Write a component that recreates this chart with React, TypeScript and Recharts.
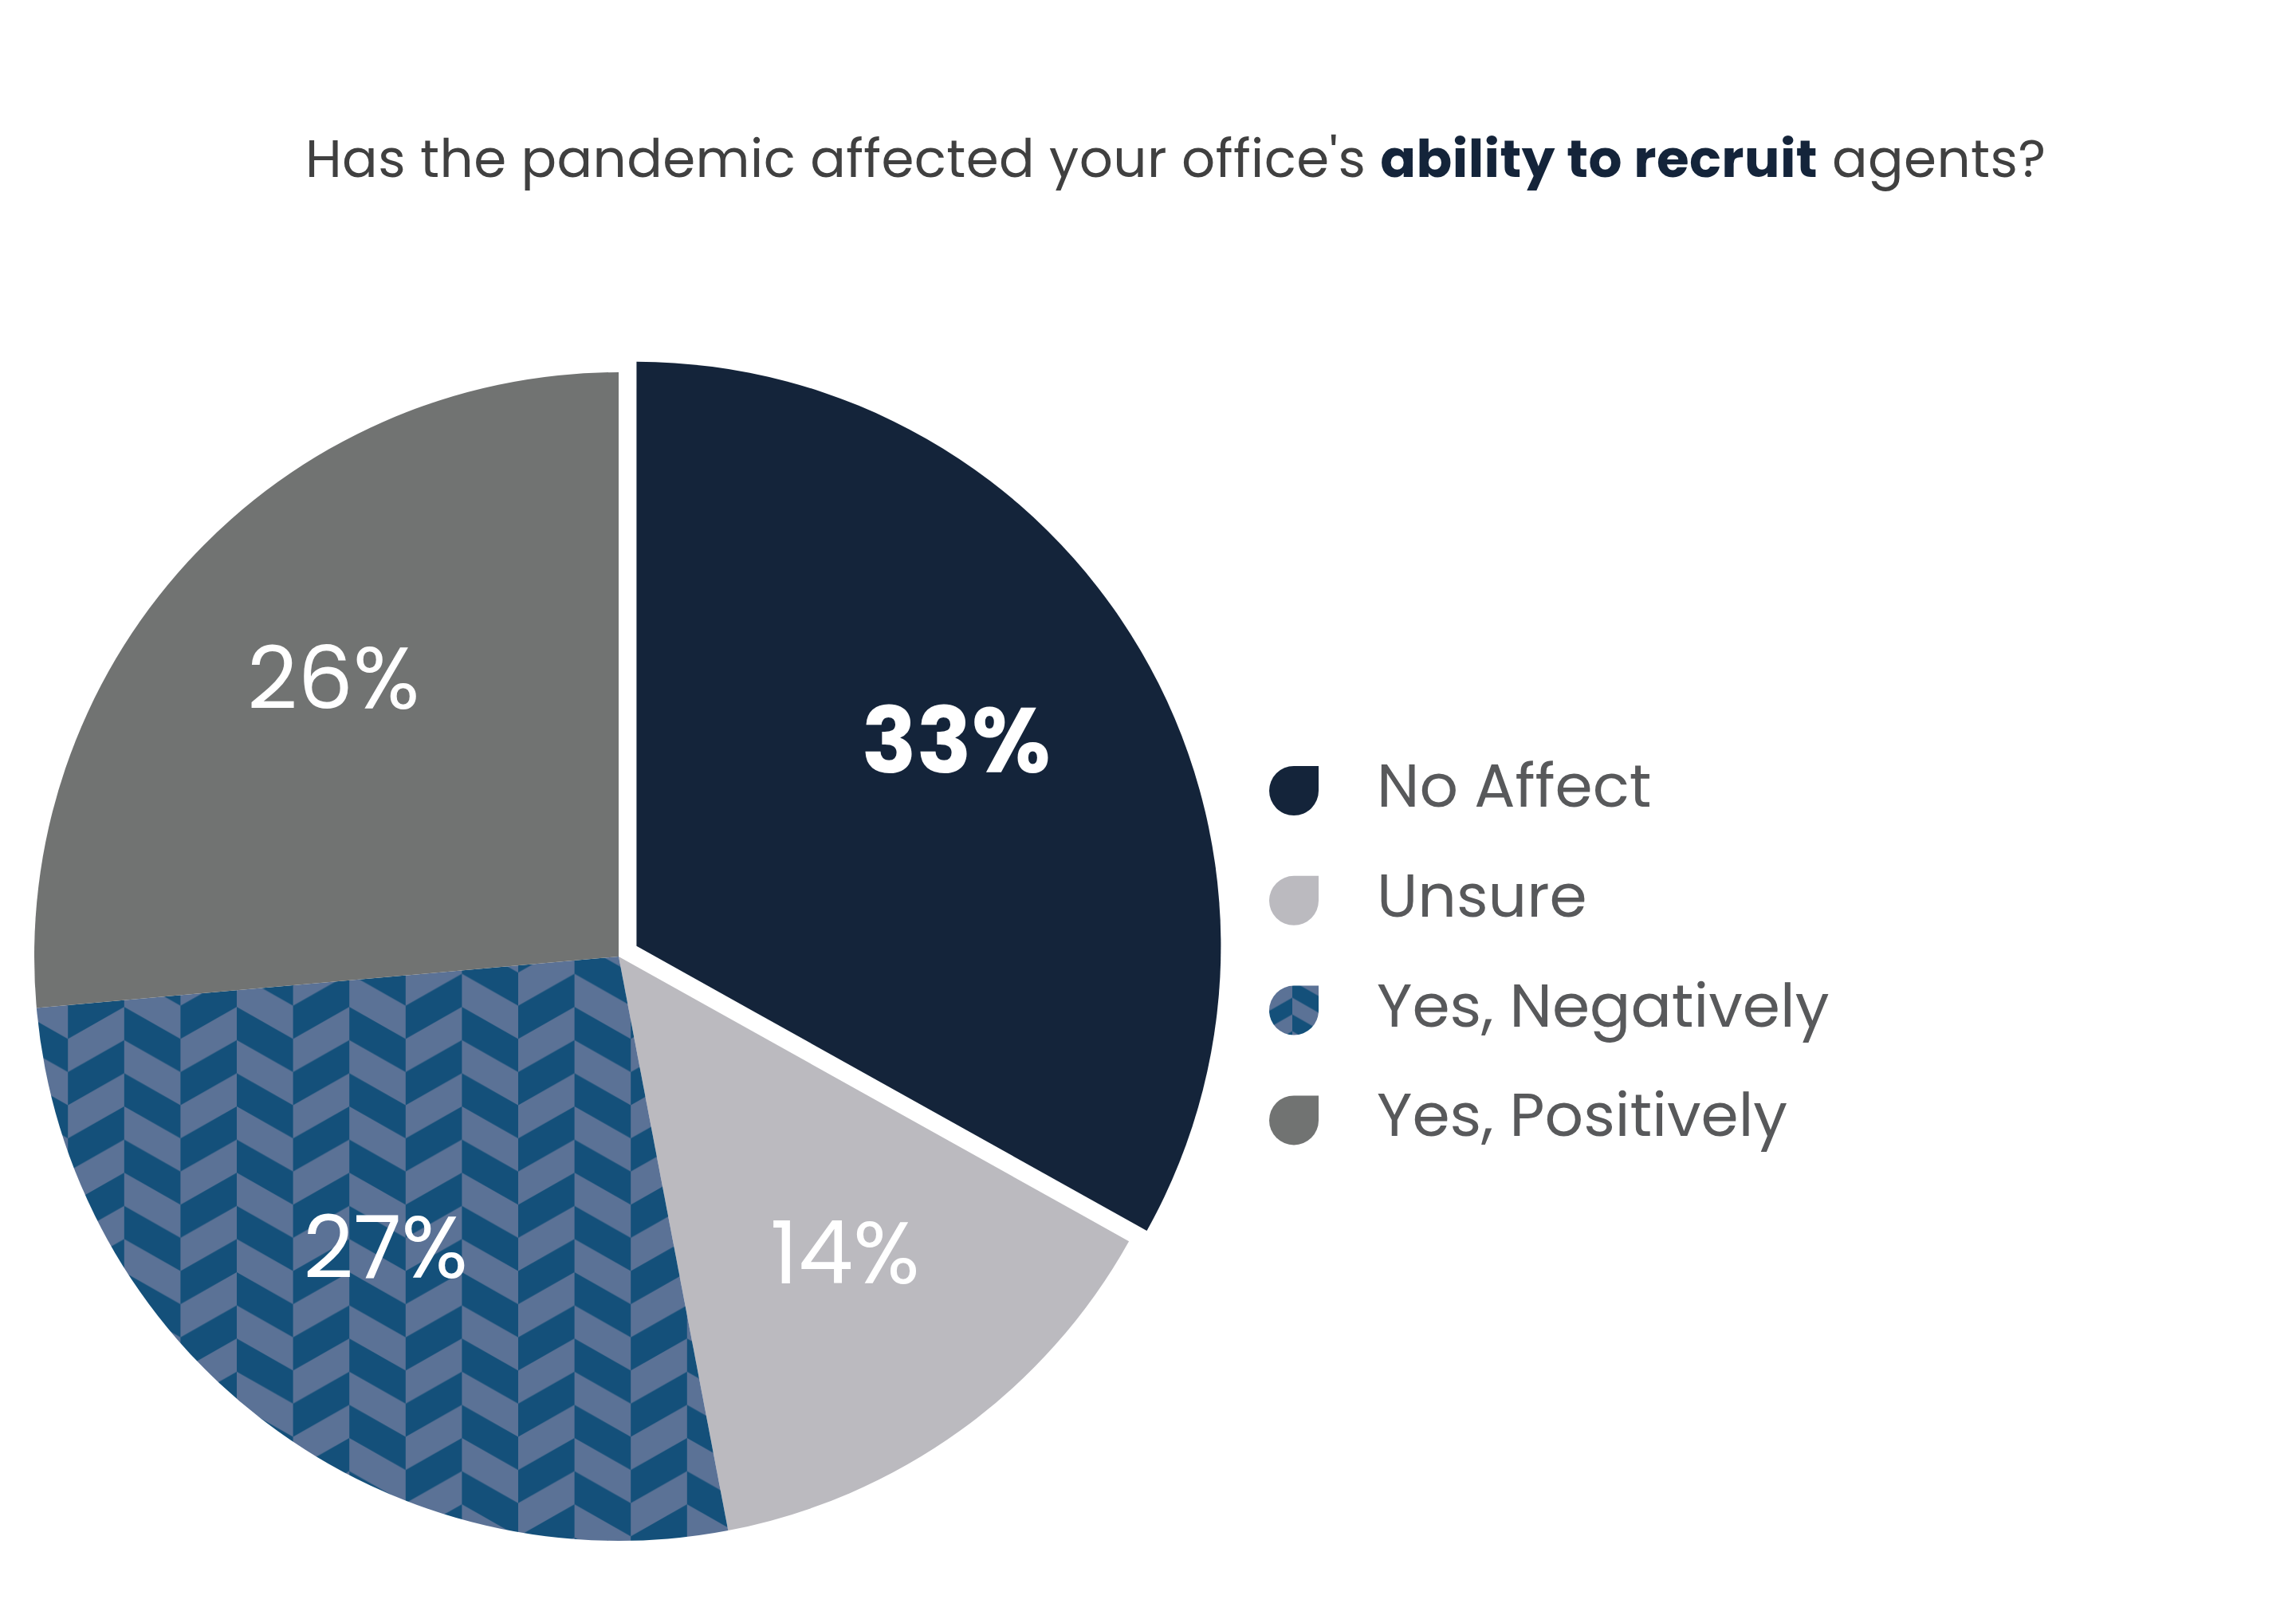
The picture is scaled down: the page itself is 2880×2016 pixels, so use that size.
import React from 'react';
import { PieChart, Pie, Cell, Legend } from 'recharts';

// ---- data ----
const categories = ['No Affect', 'Unsure', 'Yes, Negatively', 'Yes, Positively'];
const shares = [33.1, 13.9, 26.6, 26.4];
const sliceColors = ['#14243a', '#bbbabf', 'url(#chevron)', '#717372'];
const legendColors = ['#14243a', '#bbbabf', 'url(#chevronIcon)', '#717372'];
const explodedIndex = 0;
const titleParts = [
  { text: "Has the pandemic affected your office's ", bold: false },
  { text: 'ability to recruit', bold: true },
  { text: ' agents?', bold: false },
];

// ---- layout ----
const W = 2880;
const H = 2016;
const CX = 776;
const CY = 1200;
const R = 733;
const EXPLODE = 26;
const LABEL_R = 485;
const LABEL_R_EXPLODED = 465;
const LABEL_DY = -22;
const FONT = 'Poppins, Inter, "Noto Sans", sans-serif';
const RAD = Math.PI / 180;

const DARK_BLUE = '#14507a';
const LIGHT_BLUE = '#5b7296';

const data = categories.map((name, i) => ({ name, value: shares[i] }));
const total = shares.reduce((a, b) => a + b, 0);
const before = shares.slice(0, explodedIndex).reduce((a, b) => a + b, 0);
const midExploded = 90 - ((before + shares[explodedIndex] / 2) / total) * 360;
const EX_DX = EXPLODE * Math.cos(midExploded * RAD);
const EX_DY = -EXPLODE * Math.sin(midExploded * RAD);

const makeLabel = (exploded: boolean) => (props: any) => {
  const { cx, cy, midAngle, index, value } = props;
  if ((index === explodedIndex) !== exploded) return null;
  const r = exploded ? LABEL_R_EXPLODED : LABEL_R;
  const x = cx + r * Math.cos(-midAngle * RAD);
  const y = cy + r * Math.sin(-midAngle * RAD) + LABEL_DY;
  return (
    <text
      x={x}
      y={y}
      textAnchor="middle"
      dominantBaseline="central"
      fill="#ffffff"
      fontFamily={FONT}
      fontWeight={exploded ? 700 : 400}
      fontSize={exploded ? 114 : 110}
    >
      {`${Math.round(value)}%`}
    </text>
  );
};

// herringbone tile: column A as-is, column B colour-inverted
const ChevronTiles = ({ id, x, y, w, h, rise }: { id: string; x: number; y: number; w: number; h: number; rise: number }) => {
  const c = w / 2;
  const b = h / 2;
  return (
    <pattern id={id} patternUnits="userSpaceOnUse" x={x} y={y} width={w} height={h}>
      <rect x={0} y={0} width={c} height={h} fill={DARK_BLUE} />
      <polygon points={`0,${rise} ${c},0 ${c},${b} 0,${rise + b}`} fill={LIGHT_BLUE} />
      <rect x={c} y={0} width={c} height={h} fill={LIGHT_BLUE} />
      <polygon points={`${c},0 ${w},${rise} ${w},${rise + b} ${c},${b}`} fill={DARK_BLUE} />
    </pattern>
  );
};

const ICON = 62;
const ROW = 137.8;
const iconPath = `M${ICON / 2} 0 H${ICON} V${ICON / 2} A${ICON / 2} ${ICON / 2} 0 0 1 ${ICON / 2} ${ICON} A${ICON / 2} ${ICON / 2} 0 0 1 0 ${ICON / 2} A${ICON / 2} ${ICON / 2} 0 0 1 ${ICON / 2} 0 Z`;

const renderLegend = () => (
  <svg width={800} height={ROW * categories.length + 40} style={{ display: 'block', overflow: 'visible' }}>
    <defs>
      <ChevronTiles id="chevronIcon" x={-6} y={-6} w={70} h={42} rise={20} />
    </defs>
    {categories.map((name, i) => (
      <g key={name} transform={`translate(0, ${21 + i * ROW})`}>
        <path d={iconPath} fill={legendColors[i]} />
        <text x={135} y={51} fontFamily={FONT} fontSize={76} fill="#58595b">
          {name}
        </text>
      </g>
    ))}
  </svg>
);

export default function App() {
  return (
    <div style={{ position: 'absolute', left: 0, top: 0, width: W, height: H, background: '#ffffff' }}>
      <svg width={W} height={300} style={{ position: 'absolute', left: 0, top: 0 }}>
        <text x={383} y={222} fontFamily={FONT} fontSize={66} fill="#404040" textLength={2183} lengthAdjust="spacing">
          {titleParts.map((p, i) => (
            <tspan key={i} fontWeight={p.bold ? 700 : 400} fill={p.bold ? '#14243a' : '#404040'}>
              {p.text}
            </tspan>
          ))}
        </text>
      </svg>
      <div style={{ position: 'absolute', left: 0, top: 0 }}>
        <PieChart width={W} height={H} margin={{ top: 0, right: 0, bottom: 0, left: 0 }}>
          <defs>
            <ChevronTiles id="chevron" x={85.2} y={15.2} w={141.2} h={83.2} rise={40} />
          </defs>
          <Pie
            data={data}
            dataKey="value"
            nameKey="name"
            cx={CX}
            cy={CY}
            outerRadius={R}
            startAngle={90}
            endAngle={-270}
            stroke="none"
            isAnimationActive={false}
            labelLine={false}
            label={makeLabel(false)}
            legendType="none"
          >
            {data.map((d, i) => (
              <Cell key={d.name} fill={i === explodedIndex ? 'none' : sliceColors[i]} stroke="none" />
            ))}
          </Pie>
          <Pie
            data={data}
            dataKey="value"
            nameKey="name"
            cx={CX + EX_DX}
            cy={CY + EX_DY}
            outerRadius={R}
            startAngle={90}
            endAngle={-270}
            stroke="none"
            isAnimationActive={false}
            labelLine={false}
            label={makeLabel(true)}
            legendType="none"
          >
            {data.map((d, i) => (
              <Cell key={d.name} fill={i === explodedIndex ? sliceColors[i] : 'none'} stroke="none" />
            ))}
          </Pie>
          <Legend
            layout="vertical"
            align="right"
            verticalAlign="middle"
            content={renderLegend}
            wrapperStyle={{ left: 1592, top: 940, width: 800, right: 'auto', bottom: 'auto' }}
          />
        </PieChart>
      </div>
    </div>
  );
}
